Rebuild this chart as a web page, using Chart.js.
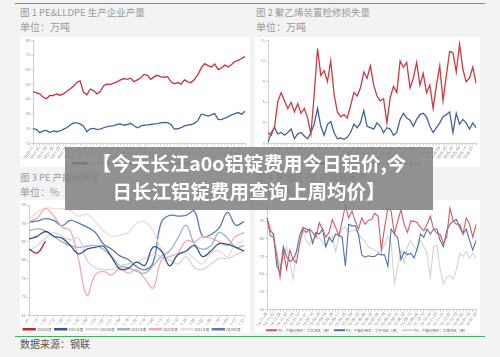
<!DOCTYPE html>
<html><head><meta charset="utf-8">
<script src="https://cdn.jsdelivr.net/npm/chart.js@4.4.1/dist/chart.umd.min.js"></script>
<style>
html,body{margin:0;padding:0;}
body{width:500px;height:357px;background:#f3f3f3;position:relative;overflow:hidden;font-family:"Noto Sans CJK SC","Noto Sans",sans-serif;}
.g{position:absolute;height:1px;background:#45b060;}
.t{position:absolute;color:#9a9a9a;font-size:9.5px;line-height:1;white-space:nowrap;}
.u{position:absolute;color:#9a9a9a;font-size:10px;line-height:1;white-space:nowrap;}
.p{position:absolute;background:#fff;}
canvas{position:absolute;}
#src{position:absolute;left:20px;top:339px;font-size:10px;color:#555;line-height:1;white-space:nowrap;}
#banner{position:absolute;left:65px;top:147px;width:368px;height:63px;background:rgba(128,128,128,0.86);color:#fff;font-weight:700;font-size:19.5px;line-height:28px;text-align:center;padding-top:2px;box-sizing:border-box;white-space:nowrap;}
</style></head>
<body>
<div class="g" style="left:15px;top:3px;width:470px;"></div>
<div class="t" style="left:20px;top:8px;">图 1 PE&amp;LLDPE 生产企业产量</div>
<div class="u" style="left:20px;top:22px;">单位：万吨</div>
<div class="t" style="left:256px;top:8px;">图 2 聚乙烯装置检修损失量</div>
<div class="u" style="left:256px;top:22px;">单位：万吨</div>
<div class="p" style="left:20px;top:37px;width:230px;height:130px;"></div>
<div class="p" style="left:255px;top:37px;width:225px;height:130px;"></div>
<div class="t" style="left:20px;top:173px;">图 3 PE 产能利用率</div>
<div class="u" style="left:20px;top:187px;">单位：%</div>
<div class="t" style="left:256px;top:173px;">图 4 各地区 PE 产能利用率</div>
<div class="u" style="left:256px;top:187px;">单位：%</div>
<div class="p" style="left:20px;top:200px;width:230px;height:133px;"></div>
<div class="p" style="left:255px;top:200px;width:225px;height:133px;"></div>
<div class="g" style="left:15px;top:336px;width:470px;"></div>
<div id="src">数据来源：钢联</div>
<canvas id="c1" width="230" height="138" style="left:20px;top:37px;"></canvas>
<canvas id="c2" width="225" height="138" style="left:255px;top:37px;"></canvas>
<canvas id="c3" width="230" height="141" style="left:20px;top:200px;"></canvas>
<canvas id="c4" width="225" height="142" style="left:255px;top:200px;"></canvas>
<div id="banner">【今天长江a0o铝锭费用今日铝价,今<br>日长江铝锭费用查询上周均价】</div>
<script>
// ---- categories ----
const monthsA = ["2020-11","2020-12","2021-01","2021-02","2021-03","2021-04","2021-05","2021-06","2021-07","2021-08","2021-09","2021-10","2021-11","2021-12","2022-01","2022-02","2022-03","2022-04","2022-05","2022-06","2022-07","2022-08","2022-09","2022-10","2022-11","2022-12","2023-01","2023-02","2023-03","2023-04","2023-05","2023-06","2023-07","2023-08","2023-09","2023-10","2023-11","2023-12","2024-01","2024-02","2024-03","2024-04","2024-05","2024-06","2024-07","2024-08","2024-09","2024-10","2024-11","2024-12","2025-01","2025-02","2025-03","2025-04","2025-05","2025-06","2025-07","2025-08","2025-09","2025-10","2025-11","2025-12","2026-01","2026-02"];
const weeksB = ["01-01","01-15","01-29","02-12","02-26","03-12","03-26","04-09","04-23","05-07","05-21","06-04","06-18","07-02","07-16","07-30","08-13","08-27","09-10","09-24","10-08","10-22","11-05","11-19","12-03","12-17","12-31"];
const weeksC = ["2024-11-08","2024-11-15","2024-11-22","2024-11-29","2024-12-06","2024-12-13","2024-12-20","2024-12-27","2025-01-03","2025-01-10","2025-01-17","2025-01-24","2025-01-31","2025-02-07","2025-02-14","2025-02-21","2025-02-28","2025-03-07","2025-03-14","2025-03-21","2025-03-28","2025-04-04","2025-04-11","2025-04-18","2025-04-25","2025-05-02","2025-05-09","2025-05-16","2025-05-23","2025-05-30","2025-06-06","2025-06-13","2025-06-20","2025-06-27","2025-07-04","2025-07-11","2025-07-18","2025-07-25","2025-08-01","2025-08-08","2025-08-15","2025-08-22","2025-08-29","2025-09-05","2025-09-12","2025-09-19","2025-09-26","2025-10-03","2025-10-10","2025-10-17","2025-10-24","2025-10-31","2025-11-07","2025-11-14","2025-11-21","2025-11-28","2025-12-05","2025-12-12","2025-12-19","2025-12-26","2026-01-02","2026-01-09","2026-01-16","2026-01-23","2026-01-30"];

// ---- chart 1: PE & LLDPE output ----
const c1Names = ["PE：生产企业产量（周）","LLDPE：生产企业产量（周）"];
const c1Red = [45.3,44.4,43.7,41.5,40.4,42.6,42.5,43.6,42.8,43.7,45.3,47,48.8,51.4,52.5,44.8,43.1,47,45.9,43.7,45.3,49.2,50.3,50.1,51,51.9,53.2,54.1,53.6,54.3,51.9,53.2,54.5,56.9,56.3,53.6,55.4,56.3,55.2,55,55.4,51.9,50.5,51.4,50.3,53.2,51.9,51.4,53.6,56.7,61.3,64.2,62.9,62,64,60.2,61.3,63.3,62,63.7,65.7,66.4,67.7,69];
const c1Blue = [20,19.6,17.4,18.5,18.9,17.4,18.5,18,18.5,19.6,20.7,22.4,24,24,23.3,21.8,18,20,20.2,19.6,19.8,20.7,21.5,21.8,22.2,22.9,23.3,22.4,22.9,23.7,22,20.7,21.8,22.4,22.6,22.9,23.3,23.5,24,24.4,24.2,22.9,19.8,20,20.7,22,22.4,22.9,23.7,25.5,29.9,29.5,28.6,29.5,30.3,26.4,26.2,27.3,28.1,29.5,30.3,31,29.9,31.9];
const c1Ticks = [10,80,10];

// ---- chart 2: maintenance loss ----
const c2Names = ["PE：检修损失量（周）","LLDPE：检修损失量（周）"];
const c2Red = [1.6,1.2,2.5,6.2,7.4,6.2,5.1,6,4.6,5.8,4.4,5.1,3.7,1.4,7.2,13.8,9.9,10.6,9,12,7.2,4.6,3.9,4.2,3.7,5.5,7.4,6.9,8.1,10.4,9.5,11.3,8.5,6.9,6.2,6.5,3,6.7,8.3,7.4,12,11.1,11.8,8.1,9.5,11.8,8.5,10.2,7.4,8.5,5.1,8.5,11.3,6.2,9.9,13.4,13.2,10.4,14.5,10.8,9,9.5,11.1,8.8];
const c2Blue = [0.2,1.6,2.3,1.4,1.6,1.2,1.6,2.1,0.7,1.4,1.6,1.1,0.7,1.6,2.8,5.1,2.5,1.2,2.8,3.2,1.6,0.7,0.8,0.6,0.9,1.6,2.8,2.3,3,4.8,2.5,2.3,2.1,3,2.5,1.6,2.3,2.1,1.2,1.6,3.5,4.4,3.7,3.4,2.5,3.5,4.2,4.4,3.9,2.5,1.6,2.3,3,3.9,4.2,4.6,1.6,4.4,2.8,3.5,3,2.1,3,2.3];
const c2Ticks = [0,15,3];

// ---- chart 3: PE utilisation by year ----
const c3Names = ["2026年度","2025年度","2024年度","2023年度","2022年度","2021年度","2020年度"];
const y2026 = [83,82,85.2];
const y2025 = [85.8,86.5,87.8,86.5,86,84,81.7,83,83.5,83.8,80.8,77.6,77.8,79.5,78.6,83.5,82.5,78.5,81.5,82.5,84,81,82.5,84.5,84.3,83.5,82.5];
const y2024 = [82.5,84,86,87.5,86.5,85.5,86,80,78,77.5,77.5,78.5,79,79.5,80.5,81.5,81,80,79,81,78,77.5,79,80.5,80.5,81.5,82.5];
const y2023 = [88,88.5,88,86.5,85,84,83.5,83.8,84,83,81,78.5,78,77,76.5,78.5,81,82.5,86,89.5,84.5,83,84,87.5,86,83.5,84];
const y2022 = [90.5,91.5,94,92,89,88,80,70.5,76,77,76,78,76.5,77.5,75,72.5,80,81,82,85.3,85,86.4,86,85,84,86.5,87.5];
const y2021 = [91,93,94.2,94,94,93.5,92,92.5,90.5,88,86.5,86.8,87.5,90,90.5,88,83,80,81.5,82,80.5,79,82,82.5,81,84.5,85];
const y2020 = [90.4,90.6,91.3,90.8,89.4,90.8,90.1,89,87.6,84.4,83,81.2,80.2,78.3,77.4,79.3,90.4,92.2,92,92.2,93.3,86.5,87,88.8,93,89.5,90.5];
const c3Ticks = [65,95,5];

// ---- chart 4: utilisation by region ----
const c4Names = ["PE：产能利用率：华北地区（周）","PE：产能利用率：华东地区（周）","PE：产能利用率：华南地区（周）"];
const c4Red = [91.8,81.8,80.9,70,58.2,73.6,62.7,73.6,68.2,66.4,77.3,85.5,83.6,85.5,83.6,80.9,89.1,85.5,80.9,83.6,90.9,86.4,81.8,90,99,91.8,95.8,90,85.5,91.8,88.2,90.4,90.9,94.5,92.7,73.6,86.4,97.3,95.5,82.7,90,96.4,88.2,83.6,90,90,89.1,86.4,84.5,88.2,92.7,85.5,83.1,82.4,77.3,80.9,97.3,90,88.2,88.2,82.7,91.8,88.2,80.9,88.2];
const c4Blue = [91.8,84.5,82.7,64.5,60.9,75.5,70,67.3,68.2,72.7,81.8,86.4,85.5,84.5,77.3,83.6,82.7,85.5,75.5,80.9,78.2,82.7,81.8,80.9,64.5,88.2,87.3,87.3,82.7,70.9,69.6,70.4,70,70,71.5,70.9,70.9,64.5,85.5,82.7,80.9,68.2,72.7,70.9,71.8,69.1,74.5,82.7,80.9,85.5,82.7,85.5,85.5,79.1,75.5,84.5,88.2,90,90.9,86.4,82.7,85.5,79.1,73.6,79.1];
const c4Gray = [90,88.2,80.9,73.6,64.5,70,75.5,66.4,57.3,71.8,78.2,84.9,79.1,76.4,80,80,80.9,78.2,75.5,79.1,81.8,72.7,80.9,85.5,86.7,83.6,84.5,84.9,82.7,80.5,78.2,75.5,74.5,73.6,72.2,73.1,76.4,81.3,77.3,54.5,64.5,73.6,66.4,75.5,79.1,75.5,73.6,79.1,75.5,71.8,58.2,75.5,76.4,62.7,54.5,58.2,59.1,57.3,62.7,71.8,70,72.7,69.1,71.8,69.1];
const c4Ticks = [40,100,10];

// ---- helpers ----
function ds(label, data, color, width, tension){
  return {label, data, borderColor:color, backgroundColor:color, borderWidth:width, pointRadius:0, tension:tension||0, fill:false};
}
function yAxis(t, w){
  return {min:t[0], max:t[1], ticks:{stepSize:t[2], font:{size:4, family:'Noto Sans'}, color:'#999', padding:1},
    grid:{drawOnChartArea:false, tickLength:2, color:'#cfcfcf'}, border:{color:'#cfcfcf'},
    afterFit(s){ s.width = w; }};
}
function xAxis(h, skip, rot){
  return {ticks:{font:{size:4, family:'Noto Sans'}, color:'#888', maxRotation:rot, minRotation:rot, autoSkip:false, padding:0,
      callback(v,i){ return i % skip === 0 ? this.getLabelForValue(v) : ''; }},
    grid:{drawOnChartArea:false, tickLength:2, color:'#cfcfcf'}, border:{color:'#cfcfcf'},
    afterFit(s){ s.height = h; }};
}
function make(id, labels, datasets, yt, yw, xh, skip, rot, pad, bw){
  new Chart(document.getElementById(id), {
    type:'line',
    data:{labels, datasets},
    options:{
      responsive:false, animation:false, events:[],
      layout:{padding:pad},
      scales:{x:xAxis(xh, skip, rot), y:yAxis(yt, yw)},
      plugins:{
        tooltip:{enabled:false},
        legend:{position:'bottom', labels:{font:{size:3.5, family:'Noto Sans CJK SC'}, color:'#666', boxWidth:bw, boxHeight:1, padding:3}}
      }
    }
  });
}

make('c1', monthsA, [ds(c1Names[0], c1Red, '#c8323a', 1.3), ds(c1Names[1], c1Blue, '#3d63a0', 1.3)],
     c1Ticks, 13, 15, 2, 55, {left:0, right:5, top:2, bottom:0}, 14);
make('c2', monthsA, [ds(c2Names[0], c2Red, '#cc3a42', 1.3), ds(c2Names[1], c2Blue, '#3d63a0', 1.3)],
     c2Ticks, 13, 15, 2, 55, {left:0, right:1, top:2, bottom:0}, 14);
make('c3', weeksB, [
  ds(c3Names[0], y2026, '#c0272d', 1.3, 0.4),
  ds(c3Names[1], y2025, '#2f5597', 1.3, 0.4),
  ds(c3Names[2], y2024, '#d6d6d6', 1.3, 0.4),
  ds(c3Names[3], y2023, '#9db0cf', 1.3, 0.4),
  ds(c3Names[4], y2022, '#f0a9b0', 1.3, 0.4),
  ds(c3Names[5], y2021, '#f3d9db', 1.3, 0.4),
  ds(c3Names[6], y2020, '#5a7bb5', 1.3, 0.4)],
  c3Ticks, 9, 9, 1, 55, {left:0, right:6, top:5, bottom:0}, 12);
make('c4', weeksC, [ds(c4Names[0], c4Red, '#d25b62', 1.1), ds(c4Names[1], c4Blue, '#4d72ad', 1.1), ds(c4Names[2], c4Gray, '#d3d3d3', 1.1)],
     c4Ticks, 12, 16, 2, 55, {left:0, right:1, top:2, bottom:0}, 10);
</script>
</body></html>
